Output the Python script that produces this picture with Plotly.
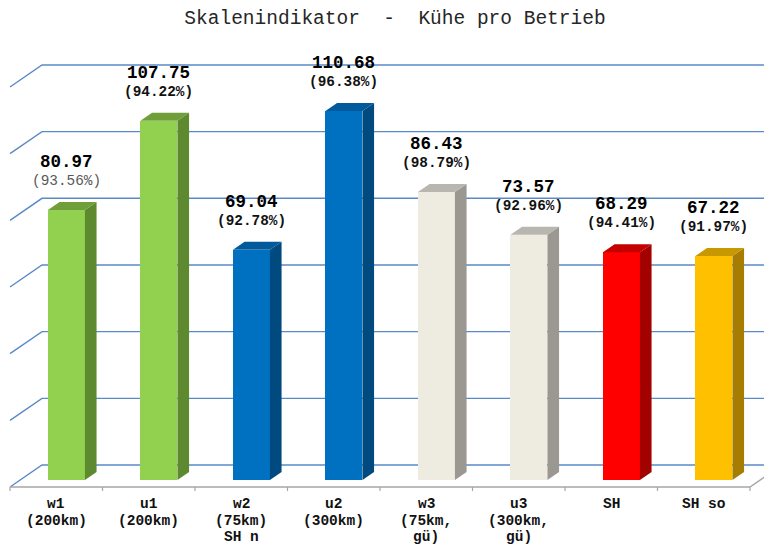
import plotly.graph_objects as go

# ---------------- data ----------------
title_text = "Skalenindikator  -  Kühe pro Betrieb"
categories = ["w1\n(200km)", "u1\n(200km)", "w2\n(75km)\nSH n", "u2\n(300km)",
              "w3\n(75km,\ngü)", "u3\n(300km,\ngü)", "SH", "SH so"]
values = [80.97, 107.75, 69.04, 110.68, 86.43, 73.57, 68.29, 67.22]
shares = [93.56, 94.22, 92.78, 96.38, 98.79, 92.96, 94.41, 91.97]
y_ticks = [0, 20, 40, 60, 80, 100, 120]

# ---------------- styles ----------------
face_colors = ["#92D050", "#92D050", "#0070C0", "#0070C0", "#EEECE1", "#EEECE1", "#FF0000", "#FFC000"]
side_colors = ["#5E8A2F", "#5E8A2F", "#004A80", "#004A80", "#9A9891", "#9A9891", "#A30000", "#A67D00"]
top_colors = ["#6F9E3B", "#6F9E3B", "#005A9C", "#005A9C", "#B8B6AE", "#B8B6AE", "#C40000", "#C89800"]
share_style = [("#595959", "normal")] + [("#111111", "bold")] * 7

OFF = 8                      # page body margin of the html page
W, H = 772 - OFF, 547 - OFF
MB = 54 - OFF                # bottom margin (px)
PLOT_H = H - MB
SLOT_PX = 92.5               # px per category
X0_PX = 10 - OFF             # left edge of floor front
PXU = 66.67 / 20             # px per value unit
FRONT_PX = 487 - OFF         # floor front edge (value 0)
DEPTH_X, DEPTH_Y = 32, 22    # floor depth (px)
BAR_FRONT = 7                # bar face plane behind front edge (in y px)
BAR_DEPTH = 8                # bar depth (in y px)
FACE_W_PX = 37

ux = 1 / SLOT_PX
uy = 1 / PXU
bar_plane_px = FRONT_PX - BAR_FRONT          # pixel of value 0 at bar face plane
xmin = -0.5 - X0_PX * ux
xmax = xmin + W * ux
ymin = (bar_plane_px - PLOT_H) * uy
ymax = bar_plane_px * uy

front_dy = -BAR_FRONT * uy                     # data y of floor front (value 0)
back_dy = (DEPTH_Y - BAR_FRONT) * uy           # data y of back wall (value 0)
depth_dx = DEPTH_X * ux
bar_dx = DEPTH_X * BAR_FRONT / DEPTH_Y * ux     # x shift of bar plane
bar_w = FACE_W_PX * ux
bar_off = bar_dx - bar_w / 2
bd_x = DEPTH_X * BAR_DEPTH / DEPTH_Y * ux
bd_y = BAR_DEPTH * uy

n = len(categories)
xs = list(range(n))

fig = go.Figure()
fig.add_trace(go.Bar(
    x=xs, y=values, width=bar_w, offset=bar_off,
    marker=dict(color=face_colors, line=dict(width=0)),
    hoverinfo="skip", showlegend=False,
))

shapes = []
grid_col = "#5A8AC6"
for v in y_ticks:
    shapes.append(dict(
        type="path", xref="x", yref="y", layer="below",
        path=f"M {-0.5} {v + front_dy} L {-0.5 + depth_dx} {v + back_dy} L {xmax + 1} {v + back_dy}",
        line=dict(color=grid_col, width=1.4)))
# floor front edge + right diagonal
floor_col = "#A6A6A6"
shapes.append(dict(
    type="path", xref="x", yref="y", layer="below",
    path=f"M {-0.5} {front_dy} L {n - 0.5} {front_dy} L {n - 0.5 + depth_dx} {back_dy}",
    line=dict(color=floor_col, width=1.4)))
for k in range(n + 1):
    xb = k - 0.5
    shapes.append(dict(type="line", xref="x", yref="y", layer="below",
                       x0=xb, x1=xb, y0=front_dy, y1=front_dy - 4 * uy,
                       line=dict(color=floor_col, width=1.2)))

# 3D side and top of bars
for i, v in enumerate(values):
    xl = i + bar_off
    xr = xl + bar_w
    shapes.append(dict(
        type="path", xref="x", yref="y", layer="above",
        path=f"M {xr} 0 L {xr} {v} L {xr + bd_x} {v + bd_y} L {xr + bd_x} {bd_y} Z",
        fillcolor=side_colors[i], line=dict(width=0)))
    shapes.append(dict(
        type="path", xref="x", yref="y", layer="above",
        path=f"M {xl} {v} L {xr} {v} L {xr + bd_x} {v + bd_y} L {xl + bd_x} {v + bd_y} Z",
        fillcolor=top_colors[i], line=dict(width=0)))

annotations = []
for i, v in enumerate(values):
    xc = i + bar_off + bar_w / 2
    annotations.append(dict(
        x=xc, y=v, xref="x", yref="y", text=f"{v:.2f}", showarrow=False,
        yanchor="middle", yshift=48,
        font=dict(family="Liberation Mono", size=17.5, color="#000000", weight="bold")))
    col, wt = share_style[i]
    annotations.append(dict(
        x=xc, y=v, xref="x", yref="y", text=f"({shares[i]:.2f}%)", showarrow=False,
        yanchor="middle", yshift=29,
        font=dict(family="Liberation Mono", size=14.4, color=col, weight=wt)))

for i, cat in enumerate(categories):
    for k, line in enumerate(cat.split("\n")):
        annotations.append(dict(
            x=i, y=front_dy, xref="x", yref="y", text=line, showarrow=False,
            yanchor="middle", yshift=-(17 + 16.5 * k),
            font=dict(family="Liberation Mono", size=14.5, color="#111111", weight="bold")))

fig.update_layout(
    width=W, height=H,
    margin=dict(l=0, r=0, t=0, b=MB),
    paper_bgcolor="white", plot_bgcolor="white",
    title=dict(text=title_text, x=(395 - OFF) / W, xanchor="center", y=1 - (17 - OFF) / H,
               yanchor="middle",
               font=dict(family="Liberation Mono", size=19.5, color="#262626")),
    xaxis=dict(range=[xmin, xmax], visible=False, fixedrange=True),
    yaxis=dict(range=[ymin, ymax], visible=False, fixedrange=True),
    shapes=shapes, annotations=annotations,
    bargap=0,
)

fig.write_html("out.html")
